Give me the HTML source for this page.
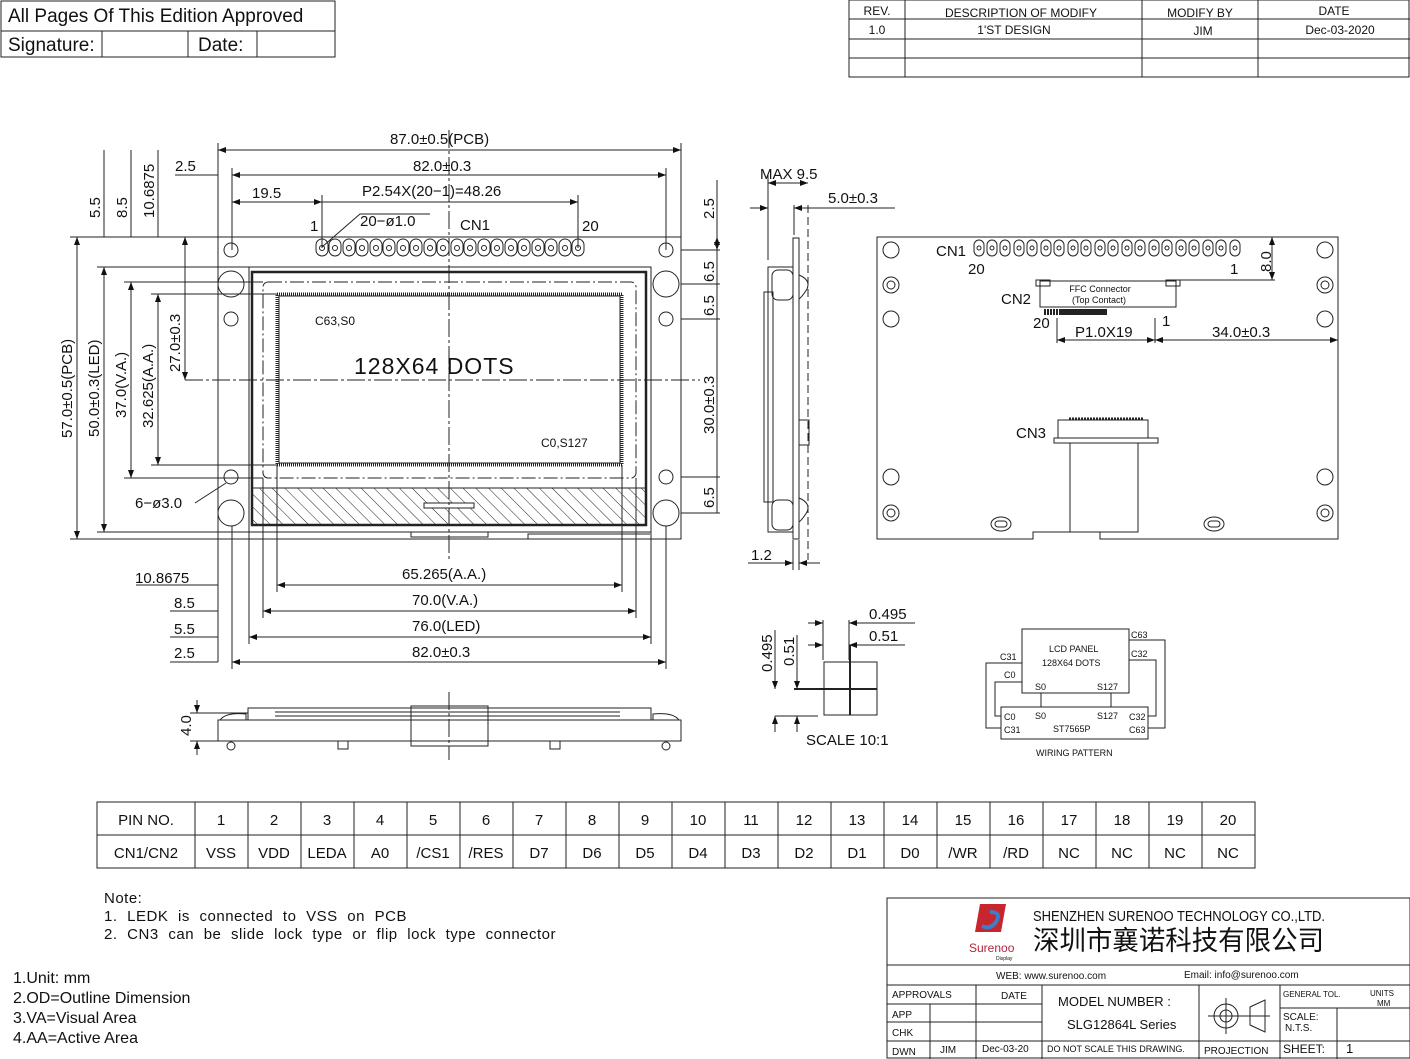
<!DOCTYPE html>
<html><head><meta charset="utf-8"><style>
html,body{margin:0;padding:0;background:#fff}
svg{display:block}
text{font-family:"Liberation Sans","Noto Sans CJK SC",sans-serif;fill:#111}
</style></head><body>
<svg width="1410" height="1059" viewBox="0 0 1410 1059" xmlns="http://www.w3.org/2000/svg">
<defs>
<pattern id="h" width="9" height="9" patternUnits="userSpaceOnUse" patternTransform="rotate(-45)"><line x1="0" y1="0" x2="0" y2="9" stroke="#222" stroke-width="1"/></pattern>
<marker id="a" markerWidth="8" markerHeight="6" refX="8" refY="3" orient="auto-start-reverse" markerUnits="userSpaceOnUse"><path d="M0,0 L8,3 L0,6z" fill="#111"/></marker>
</defs>
<g stroke="#222" fill="none" stroke-width="1">
<rect x="1" y="1" width="334" height="56"/><line x1="1" y1="31" x2="335" y2="31"/>
<line x1="102" y1="31" x2="102" y2="57"/><line x1="188" y1="31" x2="188" y2="57"/><line x1="257" y1="31" x2="257" y2="57"/>
<rect x="849" y="0" width="560" height="77"/>
<line x1="849" y1="19" x2="1410" y2="19"/><line x1="849" y1="39" x2="1410" y2="39"/><line x1="849" y1="58" x2="1410" y2="58"/>
<line x1="905" y1="0" x2="905" y2="77"/><line x1="1142" y1="0" x2="1142" y2="77"/><line x1="1258" y1="0" x2="1258" y2="77"/>
<rect x="218" y="237" width="463" height="302"/>
<circle cx="231" cy="250" r="7"/><circle cx="666" cy="250" r="7"/>
<circle cx="231" cy="319" r="7"/><circle cx="666" cy="319" r="7"/>
<circle cx="231" cy="477" r="7"/><circle cx="666" cy="477" r="7"/>
<circle cx="231" cy="284" r="13"/><circle cx="666" cy="284" r="13"/>
<circle cx="231" cy="513" r="13"/><circle cx="666" cy="513" r="13"/>
<rect x="249" y="267" width="402" height="265"/>
<rect x="252" y="272" width="394" height="253" stroke-width="2.5"/>
<rect x="252" y="488" width="394" height="37" fill="url(#h)"/>
<rect x="424" y="503" width="50" height="5" fill="#fff"/>
<rect x="263" y="282" width="373" height="196" rx="5" stroke-dasharray="14 3 2 3"/>
<rect x="277" y="294" width="345" height="171" stroke-width="3" stroke-dasharray="1 1"/>
<rect x="279" y="296" width="341" height="167"/>
<rect x="411" y="532" width="77" height="5"/>
<path d="M204,539 H411 M488,539 H528 V534 H650"/>
<line x1="449" y1="130" x2="449" y2="560" stroke-dasharray="18 3 3 3"/>
<line x1="185" y1="380" x2="700" y2="380" stroke-dasharray="18 3 3 3"/>
<g>
<rect x="316" y="239" width="12" height="17" rx="6"/><rect x="329" y="239" width="12" height="17" rx="6"/><rect x="343" y="239" width="12" height="17" rx="6"/><rect x="356" y="239" width="12" height="17" rx="6"/><rect x="370" y="239" width="12" height="17" rx="6"/><rect x="383" y="239" width="12" height="17" rx="6"/><rect x="397" y="239" width="12" height="17" rx="6"/><rect x="410" y="239" width="12" height="17" rx="6"/><rect x="424" y="239" width="12" height="17" rx="6"/><rect x="437" y="239" width="12" height="17" rx="6"/><rect x="451" y="239" width="12" height="17" rx="6"/><rect x="464" y="239" width="12" height="17" rx="6"/><rect x="478" y="239" width="12" height="17" rx="6"/><rect x="491" y="239" width="12" height="17" rx="6"/><rect x="505" y="239" width="12" height="17" rx="6"/><rect x="518" y="239" width="12" height="17" rx="6"/><rect x="532" y="239" width="12" height="17" rx="6"/><rect x="545" y="239" width="12" height="17" rx="6"/><rect x="559" y="239" width="12" height="17" rx="6"/><rect x="572" y="239" width="12" height="17" rx="6"/>
<circle cx="322" cy="248" r="2.5"/><circle cx="335" cy="248" r="2.5"/><circle cx="349" cy="248" r="2.5"/><circle cx="362" cy="248" r="2.5"/><circle cx="376" cy="248" r="2.5"/><circle cx="389" cy="248" r="2.5"/><circle cx="403" cy="248" r="2.5"/><circle cx="416" cy="248" r="2.5"/><circle cx="430" cy="248" r="2.5"/><circle cx="443" cy="248" r="2.5"/><circle cx="457" cy="248" r="2.5"/><circle cx="470" cy="248" r="2.5"/><circle cx="484" cy="248" r="2.5"/><circle cx="497" cy="248" r="2.5"/><circle cx="511" cy="248" r="2.5"/><circle cx="524" cy="248" r="2.5"/><circle cx="538" cy="248" r="2.5"/><circle cx="551" cy="248" r="2.5"/><circle cx="565" cy="248" r="2.5"/><circle cx="578" cy="248" r="2.5"/>
</g>
<line x1="218" y1="143" x2="218" y2="237"/><line x1="681" y1="143" x2="681" y2="237"/>
<line x1="218" y1="150" x2="681" y2="150" marker-start="url(#a)" marker-end="url(#a)"/>
<line x1="232" y1="168" x2="232" y2="250"/><line x1="666" y1="168" x2="666" y2="250"/>
<line x1="232" y1="175" x2="666" y2="175" marker-start="url(#a)" marker-end="url(#a)"/>
<line x1="175" y1="175" x2="218" y2="175"/>
<line x1="322" y1="195" x2="322" y2="248"/><line x1="578" y1="195" x2="578" y2="248"/>
<line x1="232" y1="202" x2="578" y2="202" marker-end="url(#a)"/>
<line x1="232" y1="202" x2="322" y2="202" marker-start="url(#a)" marker-end="url(#a)"/>
<path d="M322,247 L360,214 H430"/>
<line x1="70" y1="237" x2="218" y2="237"/><line x1="70" y1="539" x2="218" y2="539"/>
<line x1="77" y1="237" x2="77" y2="539" marker-start="url(#a)" marker-end="url(#a)"/>
<line x1="97" y1="267" x2="249" y2="267"/><line x1="97" y1="532" x2="249" y2="532"/>
<line x1="104" y1="267" x2="104" y2="532" marker-start="url(#a)" marker-end="url(#a)"/>
<line x1="124" y1="282" x2="263" y2="282"/><line x1="124" y1="478" x2="263" y2="478"/>
<line x1="131" y1="282" x2="131" y2="478" marker-start="url(#a)" marker-end="url(#a)"/>
<line x1="151" y1="294" x2="277" y2="294"/><line x1="151" y1="465" x2="277" y2="465"/>
<line x1="158" y1="294" x2="158" y2="465" marker-start="url(#a)" marker-end="url(#a)"/>
<line x1="185" y1="237" x2="185" y2="380" marker-start="url(#a)" marker-end="url(#a)"/>
<line x1="104" y1="150" x2="104" y2="237"/><line x1="131" y1="150" x2="131" y2="237"/><line x1="158" y1="150" x2="158" y2="237"/>
<path d="M195,503 L226,483"/>
<line x1="681" y1="250" x2="720" y2="250"/><line x1="681" y1="319" x2="720" y2="319"/><line x1="681" y1="284" x2="720" y2="284"/><line x1="681" y1="477" x2="720" y2="477"/><line x1="681" y1="513" x2="720" y2="513"/>
<line x1="717" y1="180" x2="717" y2="513"/>
<line x1="717" y1="237" x2="717" y2="250" marker-start="url(#a)" marker-end="url(#a)"/>
<line x1="277" y1="465" x2="277" y2="592"/><line x1="622" y1="465" x2="622" y2="592"/>
<line x1="277" y1="585" x2="622" y2="585" marker-start="url(#a)" marker-end="url(#a)"/>
<line x1="263" y1="478" x2="263" y2="618"/><line x1="636" y1="478" x2="636" y2="618"/>
<line x1="263" y1="611" x2="636" y2="611" marker-start="url(#a)" marker-end="url(#a)"/>
<line x1="249" y1="532" x2="249" y2="644"/><line x1="651" y1="532" x2="651" y2="644"/>
<line x1="249" y1="637" x2="651" y2="637" marker-start="url(#a)" marker-end="url(#a)"/>
<line x1="232" y1="526" x2="232" y2="669"/><line x1="666" y1="526" x2="666" y2="669"/>
<line x1="232" y1="662" x2="666" y2="662" marker-start="url(#a)" marker-end="url(#a)"/>
<line x1="136" y1="585" x2="218" y2="585"/><line x1="170" y1="611" x2="218" y2="611"/><line x1="170" y1="637" x2="218" y2="637"/><line x1="170" y1="662" x2="218" y2="662"/>
<line x1="218" y1="539" x2="218" y2="662"/>
<rect x="218" y="720" width="463" height="21"/>
<rect x="248" y="708" width="403" height="12"/>
<line x1="275" y1="712" x2="620" y2="712"/><line x1="275" y1="716" x2="620" y2="716"/>
<rect x="411" y="706" width="77" height="40"/>
<rect x="338" y="741" width="10" height="8"/><rect x="550" y="741" width="10" height="8"/>
<path d="M220,720 Q226,712 246,714 V720 M679,720 Q673,712 653,714 V720"/>
<circle cx="231" cy="746" r="4"/><circle cx="666" cy="746" r="4"/>
<line x1="449" y1="692" x2="449" y2="760" stroke-dasharray="18 3 3 3"/>
<line x1="190" y1="713" x2="248" y2="713"/><line x1="190" y1="741" x2="218" y2="741"/>
<line x1="197" y1="700" x2="197" y2="713" marker-end="url(#a)"/><line x1="197" y1="755" x2="197" y2="741" marker-end="url(#a)"/>
<rect x="793" y="238" width="6" height="301"/>
<rect x="768" y="267" width="25" height="265"/>
<rect x="764" y="292" width="9" height="210"/>
<rect x="772" y="270" width="21" height="30" rx="6"/><rect x="772" y="500" width="21" height="30" rx="6"/>
<rect x="799" y="420" width="10" height="25"/>
<path d="M799,275 q12,5 8,14 q-5,8 -8,10 M799,498 q12,5 8,14 q-5,8 -8,10"/>
<line x1="808" y1="205" x2="808" y2="560" stroke-dasharray="8 4"/>
<line x1="768" y1="175" x2="768" y2="260"/><line x1="794" y1="205" x2="794" y2="235"/>
<line x1="768" y1="183" x2="808" y2="183" marker-start="url(#a)" marker-end="url(#a)"/>
<line x1="750" y1="208" x2="768" y2="208" marker-end="url(#a)"/>
<line x1="808" y1="208" x2="794" y2="208" marker-end="url(#a)"/><line x1="808" y1="208" x2="895" y2="208"/>
<line x1="793" y1="540" x2="793" y2="570"/><line x1="799" y1="540" x2="799" y2="570"/>
<line x1="748" y1="563" x2="793" y2="563" marker-end="url(#a)"/><line x1="820" y1="563" x2="799" y2="563" marker-end="url(#a)"/>
<path d="M877,237 H1338 V539 H1100 V532 H1033 V539 H877 Z"/>
<g>
<circle cx="891" cy="250" r="8"/><circle cx="1325" cy="250" r="8"/><circle cx="891" cy="319" r="8"/><circle cx="1325" cy="319" r="8"/><circle cx="891" cy="477" r="8"/><circle cx="1325" cy="477" r="8"/>
<circle cx="891" cy="285" r="8"/><circle cx="891" cy="285" r="4"/><circle cx="1325" cy="285" r="8"/><circle cx="1325" cy="285" r="4"/>
<circle cx="891" cy="513" r="8"/><circle cx="891" cy="513" r="4"/><circle cx="1325" cy="513" r="8"/><circle cx="1325" cy="513" r="4"/>
<ellipse cx="1001" cy="524" rx="10" ry="7"/><rect x="995" y="521" width="12" height="6" rx="3"/>
<ellipse cx="1214" cy="524" rx="10" ry="7"/><rect x="1208" y="521" width="12" height="6" rx="3"/>
</g>
<g>
<rect x="974" y="240" width="10" height="16" rx="5"/><rect x="987" y="240" width="10" height="16" rx="5"/><rect x="1000" y="240" width="10" height="16" rx="5"/><rect x="1014" y="240" width="10" height="16" rx="5"/><rect x="1027" y="240" width="10" height="16" rx="5"/><rect x="1041" y="240" width="10" height="16" rx="5"/><rect x="1054" y="240" width="10" height="16" rx="5"/><rect x="1068" y="240" width="10" height="16" rx="5"/><rect x="1081" y="240" width="10" height="16" rx="5"/><rect x="1095" y="240" width="10" height="16" rx="5"/><rect x="1108" y="240" width="10" height="16" rx="5"/><rect x="1122" y="240" width="10" height="16" rx="5"/><rect x="1135" y="240" width="10" height="16" rx="5"/><rect x="1149" y="240" width="10" height="16" rx="5"/><rect x="1162" y="240" width="10" height="16" rx="5"/><rect x="1176" y="240" width="10" height="16" rx="5"/><rect x="1189" y="240" width="10" height="16" rx="5"/><rect x="1203" y="240" width="10" height="16" rx="5"/><rect x="1216" y="240" width="10" height="16" rx="5"/><rect x="1230" y="240" width="10" height="16" rx="5"/>
<circle cx="979" cy="248" r="2"/><circle cx="992" cy="248" r="2"/><circle cx="1005" cy="248" r="2"/><circle cx="1019" cy="248" r="2"/><circle cx="1032" cy="248" r="2"/><circle cx="1046" cy="248" r="2"/><circle cx="1059" cy="248" r="2"/><circle cx="1073" cy="248" r="2"/><circle cx="1086" cy="248" r="2"/><circle cx="1100" cy="248" r="2"/><circle cx="1113" cy="248" r="2"/><circle cx="1127" cy="248" r="2"/><circle cx="1140" cy="248" r="2"/><circle cx="1154" cy="248" r="2"/><circle cx="1167" cy="248" r="2"/><circle cx="1181" cy="248" r="2"/><circle cx="1194" cy="248" r="2"/><circle cx="1208" cy="248" r="2"/><circle cx="1221" cy="248" r="2"/><circle cx="1235" cy="248" r="2"/>
</g>
<rect x="1040" y="281" width="136" height="26"/>
<rect x="1036" y="280" width="14" height="6"/><rect x="1166" y="280" width="14" height="6"/>
<line x1="1044" y1="312" x2="1106" y2="312" stroke-width="6" stroke-dasharray="2 1"/>
<line x1="1060" y1="312" x2="1108" y2="312" stroke-width="6" stroke-dasharray="2 1"/>
<line x1="1180" y1="280" x2="1275" y2="280"/>
<line x1="1272" y1="237" x2="1272" y2="280" marker-start="url(#a)" marker-end="url(#a)"/>
<line x1="1057" y1="318" x2="1057" y2="343"/><line x1="1155" y1="318" x2="1155" y2="343"/>
<line x1="1057" y1="340" x2="1155" y2="340" marker-start="url(#a)" marker-end="url(#a)"/>
<line x1="1155" y1="340" x2="1338" y2="340" marker-start="url(#a)" marker-end="url(#a)"/>
<rect x="1058" y="420" width="90" height="18"/><rect x="1054" y="438" width="104" height="5"/>
<line x1="1069" y1="419" x2="1143" y2="419" stroke-width="3" stroke-dasharray="2 1"/>
<rect x="1070" y="443" width="68" height="89"/>
<rect x="824" y="662" width="53" height="53"/>
<line x1="850" y1="645" x2="850" y2="715" stroke-width="2"/><line x1="794" y1="689" x2="877" y2="689" stroke-width="2"/>
<line x1="823" y1="620" x2="823" y2="660"/><line x1="849" y1="620" x2="849" y2="660"/>
<line x1="808" y1="623" x2="823" y2="623" marker-end="url(#a)"/><line x1="915" y1="623" x2="849" y2="623" marker-end="url(#a)"/>
<line x1="808" y1="645" x2="823" y2="645" marker-end="url(#a)"/><line x1="905" y1="645" x2="849" y2="645" marker-end="url(#a)"/>
<line x1="775" y1="716" x2="818" y2="716"/>
<line x1="775" y1="630" x2="775" y2="689" marker-end="url(#a)"/><line x1="797" y1="635" x2="797" y2="689" marker-end="url(#a)"/>
<line x1="775" y1="732" x2="775" y2="716" marker-end="url(#a)"/><line x1="797" y1="732" x2="797" y2="716" marker-end="url(#a)"/>
<rect x="1022" y="629" width="107" height="64"/>
<rect x="1001" y="707" width="147" height="32"/>
<line x1="1041" y1="693" x2="1041" y2="707"/><line x1="1111" y1="693" x2="1111" y2="707"/>
<path d="M1022,663 H986 V728 H1001 M1022,682 H995 V716 H1001 M1129,640 H1165 V728 H1148 M1129,660 H1156 V716 H1148"/>
<rect x="97" y="802" width="1158" height="66"/><line x1="97" y1="835" x2="1255" y2="835"/>
<path d="M195,802V868M248,802V868M301,802V868M354,802V868M407,802V868M460,802V868M513,802V868M566,802V868M619,802V868M672,802V868M725,802V868M778,802V868M831,802V868M884,802V868M937,802V868M990,802V868M1043,802V868M1096,802V868M1149,802V868M1202,802V868"/>
<rect x="887" y="898" width="523" height="160"/>
<line x1="887" y1="965" x2="1410" y2="965"/><line x1="887" y1="985" x2="1410" y2="985"/>
<line x1="887" y1="1004" x2="1042" y2="1004"/><line x1="887" y1="1022" x2="1042" y2="1022"/><line x1="887" y1="1041" x2="1410" y2="1041"/>
<line x1="1280" y1="1008" x2="1410" y2="1008"/>
<line x1="930" y1="1004" x2="930" y2="1059"/><line x1="976" y1="985" x2="976" y2="1059"/><line x1="1042" y1="985" x2="1042" y2="1059"/><line x1="1199" y1="985" x2="1199" y2="1059"/><line x1="1280" y1="985" x2="1280" y2="1059"/><line x1="1337" y1="1008" x2="1337" y2="1059"/>
<circle cx="1226" cy="1016" r="12"/><circle cx="1226" cy="1016" r="6"/>
<line x1="1208" y1="1016" x2="1270" y2="1016"/><line x1="1226" y1="998" x2="1226" y2="1034"/>
<path d="M1250,1007 V1025 L1265,1032 V1000 Z"/>
</g>
<path d="M980,904 h26 l-5,28 h-26 z" fill="#c8262e"/><path d="M990,912 q12,0 6,10 q-6,8 -14,4" stroke="#3a7fc8" stroke-width="4" fill="none"/>
<text x="969" y="952" font-size="12" style="fill:#b5223d">Surenoo</text>
<text x="996" y="960" font-size="5">Display</text>
<g font-size="19">
<text x="8" y="22">All Pages Of This Edition Approved</text>
<text x="8" y="51">Signature:</text><text x="198" y="51">Date:</text>
</g>
<g font-size="12" text-anchor="middle">
<text x="877" y="15">REV.</text><text x="1021" y="17">DESCRIPTION OF MODIFY</text><text x="1200" y="17">MODIFY BY</text><text x="1334" y="15">DATE</text>
<text x="877" y="34">1.0</text><text x="1014" y="34">1'ST DESIGN</text><text x="1203" y="35">JIM</text><text x="1340" y="34">Dec-03-2020</text>
</g>
<g font-size="15">
<text x="390" y="144">87.0±0.5(PCB)</text>
<text x="413" y="171">82.0±0.3</text>
<text x="362" y="196">P2.54X(20−1)=48.26</text>
<text x="252" y="198">19.5</text>
<text x="175" y="171">2.5</text>
<text x="360" y="226">20−ø1.0</text>
<text x="460" y="230">CN1</text><text x="310" y="231">1</text><text x="582" y="231">20</text>
<text x="354" y="374" font-size="23" letter-spacing="1">128X64  DOTS</text>
<text x="315" y="325" font-size="12">C63,S0</text>
<text x="541" y="447" font-size="12">C0,S127</text>
<text x="135" y="508">6−ø3.0</text>
<text x="402" y="579">65.265(A.A.)</text>
<text x="412" y="605">70.0(V.A.)</text>
<text x="412" y="631">76.0(LED)</text>
<text x="412" y="657">82.0±0.3</text>
<text x="135" y="583">10.8675</text>
<text x="174" y="608">8.5</text>
<text x="174" y="634">5.5</text>
<text x="174" y="658">2.5</text>
<text x="760" y="179">MAX  9.5</text>
<text x="828" y="203">5.0±0.3</text>
<text x="751" y="560">1.2</text>
<text x="936" y="256">CN1</text><text x="968" y="274">20</text><text x="1230" y="274">1</text>
<text x="1001" y="304">CN2</text><text x="1033" y="328">20</text><text x="1162" y="326">1</text>
<text x="1075" y="337">P1.0X19</text><text x="1212" y="337">34.0±0.3</text>
<text x="1016" y="438">CN3</text>
<text x="869" y="619">0.495</text><text x="869" y="641">0.51</text>
<text x="806" y="745">SCALE  10:1</text>
</g>
<g font-size="9" text-anchor="middle">
<text x="1100" y="292">FFC  Connector</text><text x="1099" y="303">(Top  Contact)</text>
</g>
<g font-size="15">
<text transform="translate(100,218) rotate(-90)">5.5</text>
<text transform="translate(127,218) rotate(-90)">8.5</text>
<text transform="translate(154,218) rotate(-90)">10.6875</text>
<text transform="translate(72,438) rotate(-90)">57.0±0.5(PCB)</text>
<text transform="translate(99,437) rotate(-90)">50.0±0.3(LED)</text>
<text transform="translate(126,418) rotate(-90)">37.0(V.A.)</text>
<text transform="translate(153,428) rotate(-90)">32.625(A.A.)</text>
<text transform="translate(180,372) rotate(-90)">27.0±0.3</text>
<text transform="translate(714,219) rotate(-90)">2.5</text>
<text transform="translate(714,282) rotate(-90)">6.5</text>
<text transform="translate(714,316) rotate(-90)">6.5</text>
<text transform="translate(714,434) rotate(-90)">30.0±0.3</text>
<text transform="translate(714,508) rotate(-90)">6.5</text>
<text transform="translate(1271,272) rotate(-90)">8.0</text>
<text transform="translate(191,736) rotate(-90)">4.0</text>
<text transform="translate(772,672) rotate(-90)">0.495</text>
<text transform="translate(794,666) rotate(-90)">0.51</text>
</g>
<g font-size="9">
<text x="1049" y="652">LCD  PANEL</text><text x="1042" y="666">128X64  DOTS</text>
<text x="1131" y="638">C63</text><text x="1131" y="657">C32</text><text x="1000" y="660">C31</text><text x="1004" y="678">C0</text>
<text x="1035" y="690">S0</text><text x="1097" y="690">S127</text>
<text x="1035" y="719">S0</text><text x="1097" y="719">S127</text><text x="1004" y="720">C0</text><text x="1004" y="733">C31</text>
<text x="1129" y="720">C32</text><text x="1129" y="733">C63</text><text x="1053" y="732">ST7565P</text>
<text x="1036" y="756">WIRING  PATTERN</text>
</g>
<g font-size="15" text-anchor="middle">
<text x="146" y="825">PIN  NO.</text><text x="221" y="825">1</text><text x="274" y="825">2</text><text x="327" y="825">3</text><text x="380" y="825">4</text><text x="433" y="825">5</text><text x="486" y="825">6</text><text x="539" y="825">7</text><text x="592" y="825">8</text><text x="645" y="825">9</text><text x="698" y="825">10</text><text x="751" y="825">11</text><text x="804" y="825">12</text><text x="857" y="825">13</text><text x="910" y="825">14</text><text x="963" y="825">15</text><text x="1016" y="825">16</text><text x="1069" y="825">17</text><text x="1122" y="825">18</text><text x="1175" y="825">19</text><text x="1228" y="825">20</text>
<text x="146" y="858">CN1/CN2</text><text x="221" y="858">VSS</text><text x="274" y="858">VDD</text><text x="327" y="858">LEDA</text><text x="380" y="858">A0</text><text x="433" y="858">/CS1</text><text x="486" y="858">/RES</text><text x="539" y="858">D7</text><text x="592" y="858">D6</text><text x="645" y="858">D5</text><text x="698" y="858">D4</text><text x="751" y="858">D3</text><text x="804" y="858">D2</text><text x="857" y="858">D1</text><text x="910" y="858">D0</text><text x="963" y="858">/WR</text><text x="1016" y="858">/RD</text><text x="1069" y="858">NC</text><text x="1122" y="858">NC</text><text x="1175" y="858">NC</text><text x="1228" y="858">NC</text>
</g>
<g font-size="15" letter-spacing="0.5" word-spacing="5">
<text x="104" y="903">Note:</text>
<text x="104" y="921">1.  LEDK  is  connected  to  VSS  on  PCB</text>
<text x="104" y="939">2.  CN3  can  be  slide  lock  type  or  flip  lock  type  connector</text>
</g>
<g font-size="16">
<text x="13" y="983">1.Unit: mm</text>
<text x="13" y="1003">2.OD=Outline Dimension</text>
<text x="13" y="1023">3.VA=Visual Area</text>
<text x="13" y="1043">4.AA=Active Area</text>
</g>
<text x="1033" y="921" font-size="15" textLength="292" lengthAdjust="spacingAndGlyphs">SHENZHEN SURENOO TECHNOLOGY CO.,LTD.</text>
<text x="1033" y="950" font-size="27" textLength="291" lengthAdjust="spacingAndGlyphs">深圳市襄诺科技有限公司</text>
<g font-size="10">
<text x="996" y="979">WEB: www.surenoo.com</text><text x="1184" y="978">Email: info@surenoo.com</text>
<text x="892" y="998">APPROVALS</text><text x="1001" y="999">DATE</text>
<text x="892" y="1018">APP</text><text x="892" y="1036">CHK</text><text x="892" y="1055">DWN</text><text x="940" y="1053">JIM</text><text x="982" y="1052">Dec-03-20</text>
<text x="1047" y="1052" font-size="9">DO NOT SCALE THIS DRAWING.</text>
<text x="1204" y="1054">PROJECTION</text>
<text x="1283" y="997" font-size="8">GENERAL TOL.</text><text x="1370" y="996" font-size="8">UNITS</text><text x="1377" y="1006" font-size="8">MM</text>
<text x="1283" y="1020">SCALE:</text><text x="1285" y="1031">N.T.S.</text>
<text x="1283" y="1053" font-size="12">SHEET:</text><text x="1346" y="1053" font-size="13">1</text>
</g>
<text x="1058" y="1006" font-size="13">MODEL NUMBER :</text>
<text x="1067" y="1029" font-size="13">SLG12864L Series</text>
</svg>
</body></html>
